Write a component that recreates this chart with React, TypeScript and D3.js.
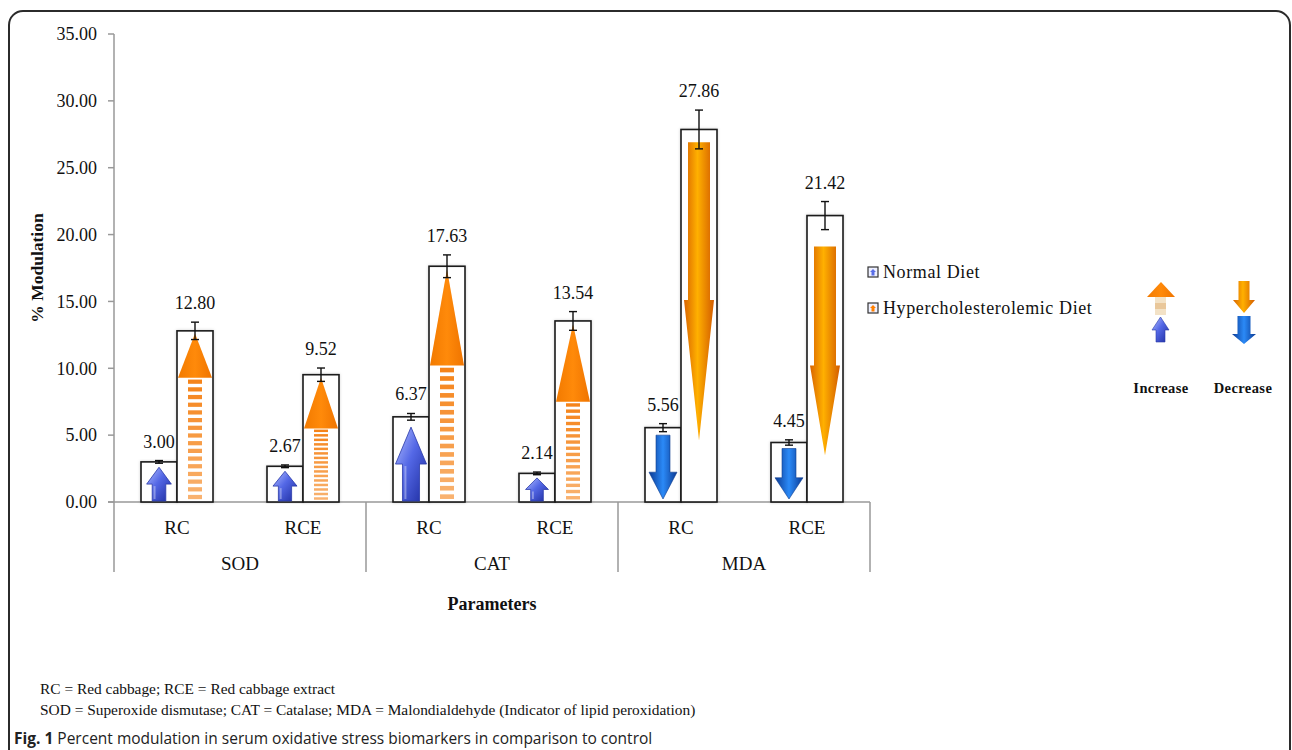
import * as d3 from "d3";

const groups = ["SOD", "CAT", "MDA"];
const subCategories = ["RC", "RCE"];
const normalValues = [3.0, 2.67, 6.37, 2.14, 5.56, 4.45];
const normalErrors = [0.1, 0.1, 0.25, 0.1, 0.3, 0.2];
const hyperValues = [12.8, 9.52, 17.63, 13.54, 27.86, 21.42];
const hyperErrors = [0.65, 0.5, 0.85, 0.7, 1.45, 1.05];
const yTickValues = [0, 5, 10, 15, 20, 25, 30, 35];
const seriesNames = ["Normal Diet", "Hypercholesterolemic Diet"];

// clip-art arrows drawn inside the bars (data units)
const normalArrowDir = ["up", "up", "up", "up", "down", "down"];
const normalArrowReach = [2.6, 2.3, 5.6, 1.8, 5.0, 4.0];
const hyperArrowDir = ["up", "up", "up", "up", "down", "down"];
const hyperArrowReach = [12.6, 9.3, 17.4, 13.3, 26.9, 19.1];
const hyperArrowHeadBase = [9.3, 5.5, 10.2, 7.5, 15.1, 10.2];
const hyperArrowEnd = [0.1, 0.1, 0.1, 0.1, 4.6, 3.5];

const serif = "'Liberation Serif', 'Times New Roman', serif";
const sans = "'Open Sans', 'Noto Sans', sans-serif";

function arrowPath(cx: number, tip: number, base: number, headLen: number, headW: number, shaftW: number) {
  // tip and base are y pixel positions; works both up and down
  const dir = base > tip ? 1 : -1;
  const hb = tip + dir * headLen;
  return `M${cx},${tip}L${cx + headW / 2},${hb}L${cx + shaftW / 2},${hb}L${cx + shaftW / 2},${base}L${cx - shaftW / 2},${base}L${cx - shaftW / 2},${hb}L${cx - headW / 2},${hb}Z`;
}

export default function App() {
  const width = 1292;
  const height = 750;
  const keys = groups.flatMap((g) => subCategories.map((s) => `${g}-${s}`));

  const x0 = d3.scaleBand().domain(keys).range([114, 870]);
  const x1 = d3
    .scaleBand()
    .domain(["normal", "hyper"])
    .range([0, x0.bandwidth()])
    .paddingInner(0)
    .paddingOuter(0.75);
  const y = d3.scaleLinear().domain([0, 35]).range([502, 34]);
  const bw = x1.bandwidth();
  const groupW = x0.bandwidth() * subCategories.length;

  const bars = keys.map((k, i) => ({
    key: k,
    sub: subCategories[i % subCategories.length],
    normal: normalValues[i],
    normalErr: normalErrors[i],
    hyper: hyperValues[i],
    hyperErr: hyperErrors[i],
    i,
  }));

  const fmt = d3.format(".2f");

  return (
    <svg width={width} height={height} style={{ position: "absolute", left: 0, top: 0, background: "#fff" }}>
      <defs>
        <linearGradient id="blueUp" x1="0" y1="0" x2="1" y2="1">
          <stop offset="0" stopColor="#b7c3ff" />
          <stop offset="0.45" stopColor="#5468e6" />
          <stop offset="1" stopColor="#1c2b9e" />
        </linearGradient>
        <linearGradient id="blueDown" x1="0" y1="0" x2="1" y2="0">
          <stop offset="0" stopColor="#0b3a94" />
          <stop offset="0.5" stopColor="#2b8af7" />
          <stop offset="1" stopColor="#0b3a94" />
        </linearGradient>
        <linearGradient id="orangeHead" x1="0" y1="0" x2="1" y2="0">
          <stop offset="0" stopColor="#f27a00" />
          <stop offset="0.5" stopColor="#ff8a0a" />
          <stop offset="1" stopColor="#ef7400" />
        </linearGradient>
        <linearGradient id="orangeDown" x1="0" y1="0" x2="1" y2="0">
          <stop offset="0" stopColor="#d96400" />
          <stop offset="0.45" stopColor="#ffb000" />
          <stop offset="1" stopColor="#d35c00" />
        </linearGradient>
        <filter id="soft" x="-20%" y="-5%" width="140%" height="110%">
          <feDropShadow dx="0" dy="0" stdDeviation="1.5" floodColor="#000" floodOpacity="0.18" />
        </filter>
      </defs>

      {/* figure frame */}
      <rect x={9} y={11} width={1281} height={820} rx={14} fill="none" stroke="#2b2b2b" strokeWidth={2} />

      {/* y axis */}
      <line x1={114} x2={114} y1={y(35)} y2={y(0)} stroke="#999" strokeWidth={1.5} />
      {yTickValues.map((t) => (
        <g key={t}>
          <line x1={108} x2={114} y1={y(t)} y2={y(t)} stroke="#999" strokeWidth={1.5} />
          <text x={97} y={y(t)} dy="0.35em" textAnchor="end" fontFamily={serif} fontSize={18} fill="#111">
            {fmt(t)}
          </text>
        </g>
      ))}
      <text
        transform={`translate(43,${(y(0) + y(35)) / 2}) rotate(-90)`}
        textAnchor="middle"
        fontFamily={serif}
        fontSize={17.5}
        fontWeight="bold"
        fill="#111"
      >
        % Modulation
      </text>

      {/* x axis, two levels */}
      <line x1={108} x2={870} y1={y(0)} y2={y(0)} stroke="#999" strokeWidth={1.5} />
      {groups.map((g, gi) => {
        const gx = x0(`${g}-${subCategories[0]}`)!;
        return (
          <g key={g}>
            <line x1={gx} x2={gx} y1={y(0)} y2={572} stroke="#999" strokeWidth={1.5} />
            {gi === groups.length - 1 && (
              <line x1={gx + groupW} x2={gx + groupW} y1={y(0)} y2={572} stroke="#999" strokeWidth={1.5} />
            )}
            <text x={gx + groupW / 2} y={570} textAnchor="middle" fontFamily={serif} fontSize={19} fill="#111">
              {g}
            </text>
          </g>
        );
      })}
      {bars.map((b) => (
        <text
          key={b.key}
          x={x0(b.key)! + x0.bandwidth() / 2}
          y={534}
          textAnchor="middle"
          fontFamily={serif}
          fontSize={19}
          fill="#111"
        >
          {b.sub}
        </text>
      ))}
      <text x={492} y={610} textAnchor="middle" fontFamily={serif} fontSize={18} fontWeight="bold" fill="#111">
        Parameters
      </text>

      {/* bars */}
      {bars.map((b) => {
        const xn = x0(b.key)! + x1("normal")!;
        const xh = x0(b.key)! + x1("hyper")!;
        const cn = xn + bw / 2;
        const ch = xh + bw / 2;
        const y0 = y(0);

        // normal diet arrow
        const nTip = normalArrowDir[b.i] === "up" ? y(normalArrowReach[b.i]) : y0 - 3;
        const nBase = normalArrowDir[b.i] === "up" ? y0 - 1 : y(normalArrowReach[b.i]);
        const nLen = Math.abs(nBase - nTip);
        let normalArrow;
        if (normalArrowDir[b.i] === "up") {
          const hw = Math.min(31, 19 + nLen * 0.17);
          normalArrow = (
            <g>
              <path d={arrowPath(cn, nTip, nBase, nLen * 0.5, hw, hw * 0.55)} fill="url(#blueUp)" stroke="#2a3aa8" strokeWidth={0.8} />
              <path
                d={`M${cn - hw * 0.18},${nTip + nLen * 0.5 + 2}L${cn - hw * 0.18},${nBase - 2}`}
                stroke="#fff"
                strokeOpacity={0.35}
                strokeWidth={2}
              />
            </g>
          );
        } else {
          normalArrow = (
            <path d={arrowPath(cn, nTip, nBase, nLen * 0.42, 28, 14)} fill="url(#blueDown)" stroke="#0d3c8f" strokeWidth={0.6} />
          );
        }

        // hypercholesterolemic diet arrow
        let hyperArrow;
        if (hyperArrowDir[b.i] === "up") {
          const tip = y(hyperArrowReach[b.i]);
          const hb = y(hyperArrowHeadBase[b.i]);
          const end = y(hyperArrowEnd[b.i]);
          const n = 16;
          const period = (end - hb) / n;
          hyperArrow = (
            <g>
              <path d={`M${ch},${tip}L${ch + 17},${hb}L${ch - 17},${hb}Z`} fill="url(#orangeHead)" />
              {d3.range(n).map((j) => (
                <rect
                  key={j}
                  x={ch - 7}
                  y={hb + j * period + period * 0.25}
                  width={14}
                  height={period * 0.55}
                  fill="#f5841a"
                  opacity={1 - j * 0.025}
                />
              ))}
            </g>
          );
        } else {
          const top = y(hyperArrowReach[b.i]);
          const hb = y(hyperArrowHeadBase[b.i]);
          const tip = y(hyperArrowEnd[b.i]);
          hyperArrow = (
            <path
              d={`M${ch - 11},${top}L${ch + 11},${top}L${ch + 11},${hb}L${ch + 15},${hb}L${ch},${tip}L${ch - 15},${hb}L${ch - 11},${hb}Z`}
              fill="url(#orangeDown)"
            />
          );
        }

        return (
          <g key={b.key}>
            <rect x={xn} y={y(b.normal)} width={bw} height={y0 - y(b.normal)} fill="#fff" stroke="#1a1a1a" strokeWidth={1.6} filter="url(#soft)" />
            <rect x={xh} y={y(b.hyper)} width={bw} height={y0 - y(b.hyper)} fill="#fff" stroke="#1a1a1a" strokeWidth={1.6} filter="url(#soft)" />
            {normalArrow}
            {hyperArrow}
            {/* error bars */}
            {[
              { c: cn, v: b.normal, e: b.normalErr },
              { c: ch, v: b.hyper, e: b.hyperErr },
            ].map((s, k) => (
              <g key={k} stroke="#111" strokeWidth={1.4}>
                <line x1={s.c} x2={s.c} y1={y(s.v + s.e)} y2={y(s.v - s.e)} />
                <line x1={s.c - 4} x2={s.c + 4} y1={y(s.v + s.e)} y2={y(s.v + s.e)} />
                <line x1={s.c - 4} x2={s.c + 4} y1={y(s.v - s.e)} y2={y(s.v - s.e)} />
              </g>
            ))}
            <text x={cn} y={y(b.normal + b.normalErr) - 13} textAnchor="middle" fontFamily={serif} fontSize={18} fill="#111">
              {fmt(b.normal)}
            </text>
            <text x={ch} y={y(b.hyper + b.hyperErr) - 13} textAnchor="middle" fontFamily={serif} fontSize={18} fill="#111">
              {fmt(b.hyper)}
            </text>
          </g>
        );
      })}

      {/* legend */}
      {seriesNames.map((name, i) => {
        const ly = 272 + i * 36;
        return (
          <g key={name}>
            <rect x={868} y={ly - 5} width={10} height={10} fill="#eef0ff" stroke="#333" strokeWidth={1.2} />
            <path
              d={arrowPath(873, ly - 3, ly + 3.5, 3, 6, 3)}
              fill={i === 0 ? "#5a6ee6" : "#ff8000"}
            />
            <text x={883} y={ly} dy="0.35em" fontFamily={serif} fontSize={18} letterSpacing={0.6} fill="#111">
              {name}
            </text>
          </g>
        );
      })}

      {/* increase / decrease key */}
      <g>
        <path d={`M1147,297L1161,282L1175,297Z`} fill="url(#orangeHead)" />
        {d3.range(3).map((j) => (
          <rect key={j} x={1155} y={297 + j * 6} width={11} height={6} fill={j % 2 === 0 ? "#f3e2c6" : "#e9c79a"} />
        ))}
        <path d={arrowPath(1160.5, 317, 342, 13, 17, 9)} fill="url(#blueUp)" stroke="#2a3aa8" strokeWidth={0.6} />
        <path d={arrowPath(1244, 313, 281, 13, 22, 11)} fill="url(#orangeDown)" />
        <path d={arrowPath(1244, 344, 316, 10, 24, 13)} fill="url(#blueDown)" />
        <text x={1161} y={393} textAnchor="middle" fontFamily={serif} fontSize={14.5} fontWeight="bold" letterSpacing={0.4} fill="#111">
          Increase
        </text>
        <text x={1243} y={393} textAnchor="middle" fontFamily={serif} fontSize={14.5} fontWeight="bold" letterSpacing={0.4} fill="#111">
          Decrease
        </text>
      </g>

      {/* footnotes and caption */}
      <text x={40} y={694} fontFamily={serif} fontSize={15.4} fill="#111">
        RC = Red cabbage; RCE = Red cabbage extract
      </text>
      <text x={40} y={715} fontFamily={serif} fontSize={15.4} fill="#111">
        SOD = Superoxide dismutase; CAT = Catalase; MDA = Malondialdehyde (Indicator of lipid peroxidation)
      </text>
      <text x={14} y={744} fontFamily={sans} fontSize={15.5} fill="#222">
        <tspan fontWeight="bold">Fig. 1</tspan> Percent modulation in serum oxidative stress biomarkers in comparison to control
      </text>
    </svg>
  );
}
